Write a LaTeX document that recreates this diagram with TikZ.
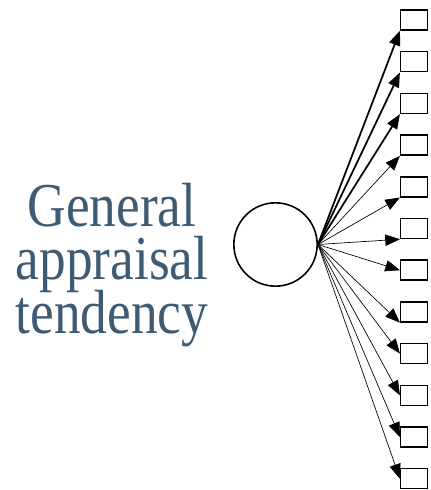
\documentclass[tikz,border=0pt]{standalone}
\usepackage{fontspec}
\usetikzlibrary{arrows.meta}
\newfontfamily\labelfont{Liberation Serif}
\newcommand{\captionfont}{\labelfont\fontsize{40}{34.5}\selectfont\lineskiplimit=-20pt\relax}
\definecolor{labelblue}{HTML}{3E5B74}

\begin{document}
\begin{tikzpicture}[
  x=0.75pt, y=-0.75pt,
  >={Triangle[length=11pt,width=8.5pt]},
  item/.style={draw, line width=1.1pt, minimum width=20pt, minimum height=15pt, inner sep=0pt},
  factor/.style={draw, circle, line width=1.2pt, minimum size=62.5pt, inner sep=0pt},
  load/.style={->, line width=0.5pt},
  strongload/.style={load, line width=1.3pt},
  caption/.style={font=\captionfont, text=labelblue, align=center, inner sep=0pt, yscale=1.17}
]
\useasboundingbox (0,0) rectangle (430,490);

\node[factor] (f) at (275.5,244.5) {};
\node[caption] (lbl) at (112,265) {General\\appraisal\\tendency};

% indicators
\foreach \i in {1,...,12}
  \node[item] (b\i) at (414,{20+(\i-1)*41.7}) {};

\foreach \i/\anc/\sty in {1/south west/strongload, 2/south west/strongload,
    3/south west/strongload, 4/south west/load, 5/south west/load, 6/south west/load,
    7/west/load, 8/south west/load, 9/west/load, 10/west/load, 11/west/load, 12/west/load}
  \draw[\sty] (f.east) -- (b\i.\anc);

\end{tikzpicture}
\end{document}
